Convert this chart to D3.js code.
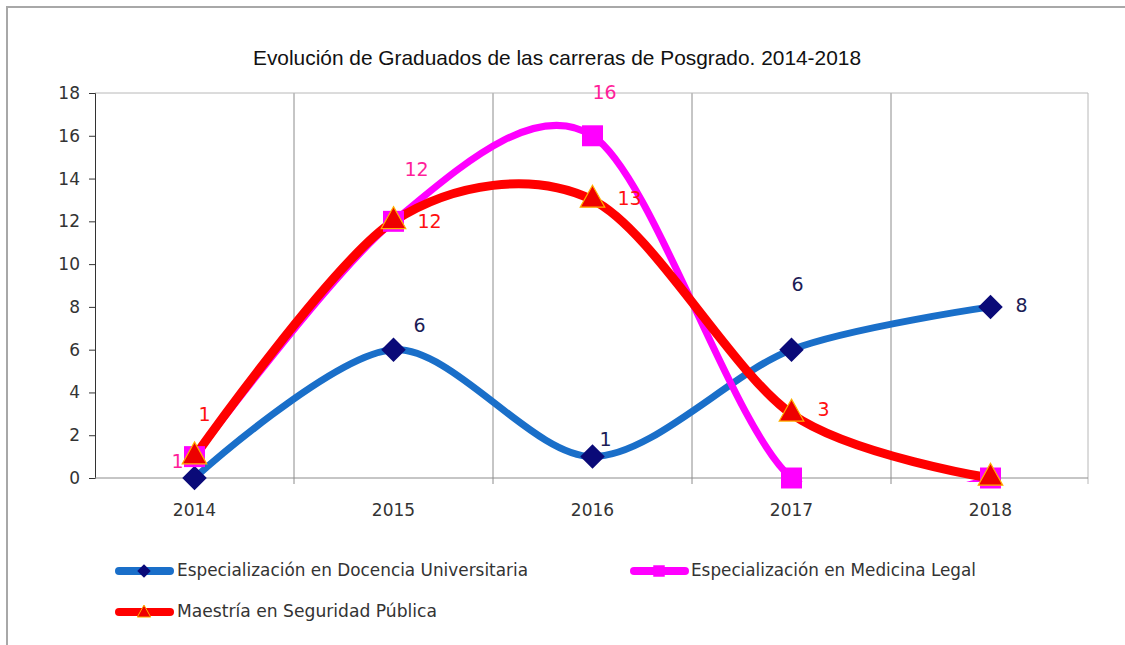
<!DOCTYPE html>
<html>
<head>
<meta charset="utf-8">
<script src="https://cdn.jsdelivr.net/npm/d3@7"></script>
<style>
  body { margin: 0; background: #fff; }
  svg text { font-family: "DejaVu Sans", sans-serif; }
</style>
</head>
<body>
<div id="chart"></div>
<script>
// Evolución de Graduados — smoothed Excel-style line chart
const years = ["2014", "2015", "2016", "2017", "2018"];
const docencia = [0, 6, 1, 6, 8];
const medicina = [1, 12, 16, 0, 0];
const seguridad = [1, 12, 13, 3, 0];
const yTicks = [0, 2, 4, 6, 8, 10, 12, 14, 16, 18];
const title = "Evolución de Graduados de las carreras de Posgrado. 2014-2018";

const series = [
  { name: "Especialización en Docencia Universitaria", values: docencia,
    line: "#1a6fc9", marker: "diamond", fill: "#0a0a78", stroke: "none", label: "#1c1c55",
    // label offsets per point (dx, dy), null = hidden
    offs: [null, [26, -23], [13, -16], [6, -64], [31, 0]] },
  { name: "Especialización en Medicina Legal", values: medicina,
    line: "#ff00ff", marker: "square", fill: "#ff00ff", stroke: "none", label: "#ff1f9a",
    offs: [[-17, 6], [23, -51], [12, -42], null, null] },
  { name: "Maestría en Seguridad Pública", values: seguridad,
    line: "#ff0000", marker: "triangle", fill: "#ee0000", stroke: "#ffb000", label: "#ff1010",
    offs: [[10, -41], [36, 1], [37, 0], [32, -3], null] }
];

const W = 1125, H = 645;
const plot = { left: 95, right: 1090, top: 93, bottom: 478 };

const svg = d3.select("#chart").append("svg")
  .attr("width", W).attr("height", H);

// outer frame
svg.append("rect").attr("x", 7).attr("y", 7).attr("width", W + 10).attr("height", H + 10)
  .attr("fill", "#fff").attr("stroke", "#a8a8a8").attr("stroke-width", 2);

svg.append("text").attr("x", 557).attr("y", 65).attr("text-anchor", "middle")
  .attr("font-size", 21).attr("fill", "#111")
  .attr("textLength", 608).attr("lengthAdjust", "spacingAndGlyphs")
  .style("font-family", "'Liberation Sans Narrow', 'Liberation Sans', sans-serif")
  .text(title);

const x = d3.scaleBand().domain(years).range([plot.left, plot.right]);
const y = d3.scaleLinear().domain([0, 18]).range([plot.bottom, plot.top]);
const cx = d => x(d) + x.bandwidth() / 2;

svg.append("clipPath").attr("id", "plotclip").append("rect")
  .attr("x", plot.left).attr("y", plot.top - 20)
  .attr("width", plot.right - plot.left).attr("height", plot.bottom - plot.top + 24);

// vertical grid lines at category boundaries + frame
const g = svg.append("g");
g.selectAll("line.vg").data(years.slice(1)).join("line")
  .attr("x1", d => x(d)).attr("x2", d => x(d))
  .attr("y1", plot.top).attr("y2", plot.bottom + 6)
  .attr("stroke", "#8c8c8c").attr("stroke-width", 1);
g.append("line").attr("x1", plot.left).attr("x2", plot.right - 2)
  .attr("y1", plot.top).attr("y2", plot.top).attr("stroke", "#b8b8b8");
g.append("line").attr("x1", plot.right - 2).attr("x2", plot.right - 2)
  .attr("y1", plot.top).attr("y2", plot.bottom + 6).attr("stroke", "#b8b8b8");

// y axis
const yAxis = svg.append("g").attr("transform", `translate(${plot.left},0)`)
  .call(d3.axisLeft(y).tickValues(yTicks).tickSize(6).tickPadding(9));
yAxis.select(".domain").attr("stroke", "#333");
yAxis.selectAll(".tick line").attr("stroke", "#333");
yAxis.selectAll("text").attr("font-size", 17).attr("fill", "#333");

// x axis
svg.append("line").attr("x1", plot.left).attr("x2", plot.right - 2)
  .attr("y1", plot.bottom).attr("y2", plot.bottom).attr("stroke", "#8c8c8c");
svg.append("g").selectAll("text").data(years).join("text")
  .attr("x", cx).attr("y", 516).attr("text-anchor", "middle")
  .attr("font-size", 17).attr("fill", "#333").text(d => d);

const line = d3.line()
  .x((d, i) => cx(years[i]))
  .y(d => y(d))
  .curve(d3.curveCardinal.tension(0.1));

const diamond = { draw(ctx, size) { const r = Math.sqrt(size) / 1.414 * 1.0;
  ctx.moveTo(0, -r); ctx.lineTo(r, 0); ctx.lineTo(0, r); ctx.lineTo(-r, 0); ctx.closePath(); } };
const triangle = { draw(ctx, size) { const s = Math.sqrt(size);
  ctx.moveTo(0, -s * 0.62); ctx.lineTo(s * 0.6, s * 0.45); ctx.lineTo(-s * 0.6, s * 0.45); ctx.closePath(); } };
const symbolFor = { diamond: diamond, square: d3.symbolSquare, triangle: triangle };
const sizeFor = { diamond: 300, square: 440, triangle: 420 };
const widthFor = [7, 7, 9];

// lines
series.forEach((s, k) => {
  svg.append("path").datum(s.values).attr("d", line)
    .attr("clip-path", "url(#plotclip)")
    .attr("fill", "none").attr("stroke", s.line)
    .attr("stroke-width", widthFor[k]).attr("stroke-linecap", "round");
});
// markers
series.forEach(s => {
  svg.append("g").selectAll("path").data(s.values).join("path")
    .attr("transform", (d, i) => `translate(${cx(years[i])},${y(d) + (s.marker === "triangle" ? -2 : 0)})`)
    .attr("d", d3.symbol().type(symbolFor[s.marker]).size(sizeFor[s.marker]))
    .attr("fill", s.fill).attr("stroke", s.stroke).attr("stroke-width", 1.2);
});
// data labels
series.forEach(s => {
  svg.append("g").selectAll("text").data(s.values.map((v, i) => ({ v, i })).filter(d => s.offs[d.i]))
    .join("text")
    .attr("x", d => cx(years[d.i]) + s.offs[d.i][0])
    .attr("y", d => y(d.v) + s.offs[d.i][1])
    .attr("text-anchor", "middle").attr("dominant-baseline", "middle")
    .attr("font-size", 19).attr("fill", s.label)
    .text(d => d.v);
});

// legend
const legendPos = [[115, 571, 177], [630, 571, 691], [115, 612, 177]];
const legendLen = [351, 285, 260];
series.forEach((s, k) => {
  const [lx, ly, tx] = legendPos[k];
  const lg = svg.append("g");
  lg.append("line").attr("x1", lx + 4).attr("x2", lx + 55).attr("y1", ly).attr("y2", ly)
    .attr("stroke", s.line).attr("stroke-width", 8).attr("stroke-linecap", "round");
  lg.append("path").attr("transform", `translate(${lx + 29},${ly})`)
    .attr("d", d3.symbol().type(symbolFor[s.marker]).size(sizeFor[s.marker] * 0.3))
    .attr("fill", s.fill).attr("stroke", s.stroke);
  lg.append("text").attr("x", tx).attr("y", ly).attr("dominant-baseline", "middle")
    .attr("font-size", 17).attr("fill", "#333")
    .attr("textLength", legendLen[k]).attr("lengthAdjust", "spacingAndGlyphs")
    .style("font-family", "'Liberation Sans Narrow', 'DejaVu Sans', sans-serif")
    .text(s.name);
});
</script>
</body>
</html>
